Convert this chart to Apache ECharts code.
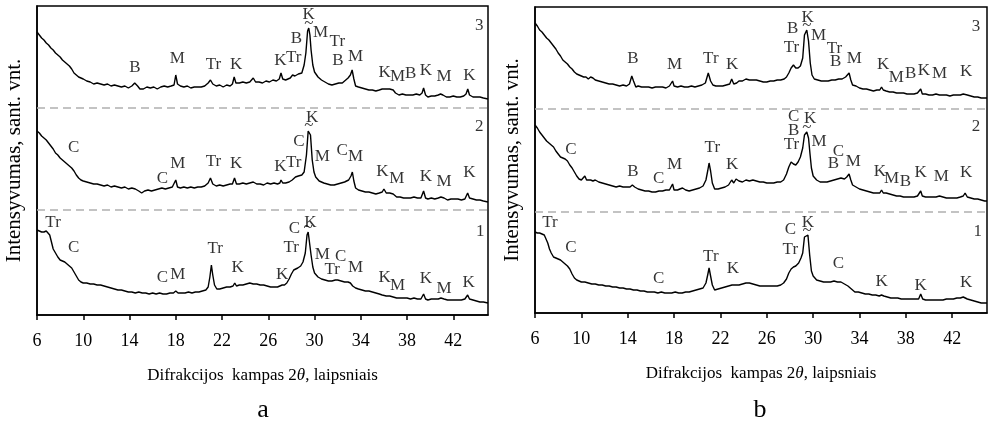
<!DOCTYPE html>
<html><head><meta charset="utf-8">
<script src="https://cdn.jsdelivr.net/npm/echarts@6/dist/echarts.min.js"></script>
<style>html,body{margin:0;padding:0;background:#fff}#c{width:988px;height:424px}</style>
</head><body><div id="c"></div>
<script>
// ---- data (2θ, intensity in arbitrary units, traces already offset as in the figure) ----
const xTicksMin = 6, xTicksMax = 45, xTickStep = 4;

const a3 = [[6.0,283],[6.2,280],[6.4,277],[6.6,275],[6.8,272],[7.0,270],[7.2,267],[7.4,265],[7.6,262],[7.8,260],[8.0,258],[8.2,255],[8.4,253],[8.6,251],[8.8,249],[9.0,246],[9.2,242],[9.4,240],[9.6,238],[9.8,237],[10.0,236],[10.3,234],[10.6,233],[10.9,231],[11.2,232],[11.5,231],[11.8,230],[12.1,231],[12.4,229],[12.7,230],[13.0,229],[13.3,228],[13.6,229],[13.9,227],[14.2,229],[14.45,232],[14.7,229],[14.9,226],[15.2,226],[15.5,228],[15.8,227],[16.1,228],[16.4,226],[16.7,228],[17.0,229],[17.3,228],[17.6,229],[17.85,230],[18.0,240],[18.15,231],[18.4,229],[18.7,228],[19.0,229],[19.3,227],[19.6,228],[19.9,228],[20.2,228],[20.5,229],[20.8,232],[21.0,235],[21.2,231],[21.5,229],[21.8,230],[22.1,228],[22.4,230],[22.7,229],[22.9,231],[23.05,238],[23.2,232],[23.5,232],[23.8,233],[24.1,232],[24.4,233],[24.7,237],[24.9,233],[25.2,233],[25.5,232],[25.8,234],[26.1,233],[26.4,235],[26.7,234],[26.95,236],[27.1,242],[27.25,236],[27.5,235],[27.7,236],[27.9,237],[28.1,240],[28.3,239],[28.6,241],[28.9,242],[29.1,250],[29.25,262],[29.4,284],[29.5,287],[29.6,280],[29.7,265],[29.85,250],[30.0,243],[30.3,238],[30.6,235],[30.9,233],[31.2,231],[31.5,230],[31.8,231],[32.1,232],[32.4,232],[32.7,235],[32.9,237],[33.1,240],[33.25,245],[33.4,236],[33.55,229],[33.8,228],[34.1,227],[34.4,226],[34.7,225],[35.0,225],[35.3,224],[35.6,225],[35.85,226],[36.0,228],[36.2,226],[36.5,226],[36.8,225],[37.0,222],[37.3,220],[37.6,221],[37.9,220],[38.2,220],[38.5,220],[38.8,221],[39.1,220],[39.3,222],[39.43,227],[39.6,220],[39.8,218],[40.1,219],[40.4,219],[40.7,220],[40.9,221],[41.1,220],[41.4,218],[41.7,218],[42.0,219],[42.3,218],[42.6,218],[42.9,219],[43.1,221],[43.25,226],[43.4,220],[43.7,218],[44.0,218],[44.3,218],[44.6,217],[45.0,216]];

const a2 = [[6.0,184],[6.2,182],[6.4,179],[6.6,177],[6.8,175],[7.0,172],[7.2,169],[7.4,166],[7.6,162],[7.8,160],[8.0,157],[8.2,155],[8.4,153],[8.6,151],[8.8,149],[9.0,147],[9.2,144],[9.4,140],[9.6,137],[9.8,135],[10.0,134],[10.3,133],[10.6,132],[10.9,131],[11.2,131],[11.5,130],[11.8,129],[12.1,130],[12.4,128],[12.7,129],[13.0,128],[13.3,127],[13.6,128],[13.9,126],[14.2,127],[14.5,126],[14.8,124],[15.05,122],[15.3,124],[15.6,125],[15.9,124],[16.2,125],[16.5,126],[16.8,127],[17.1,126],[17.4,127],[17.7,128],[17.85,128],[18.0,135],[18.15,128],[18.4,127],[18.7,128],[19.0,127],[19.3,128],[19.6,127],[19.9,128],[20.2,128],[20.5,129],[20.8,132],[21.0,137],[21.2,131],[21.5,129],[21.8,130],[22.1,129],[22.4,130],[22.7,131],[22.9,131],[23.08,137],[23.25,131],[23.5,131],[23.8,132],[24.1,131],[24.4,132],[24.7,133],[25.0,131],[25.3,131],[25.6,130],[25.9,132],[26.2,131],[26.5,132],[26.8,131],[27.0,132],[27.1,135],[27.25,132],[27.5,132],[27.8,133],[28.07,135],[28.35,138],[28.6,139],[28.9,140],[29.1,143],[29.3,160],[29.45,184],[29.55,185],[29.65,180],[29.8,155],[29.95,143],[30.1,138],[30.4,134],[30.8,132],[31.1,131],[31.4,130],[31.7,130],[32.0,131],[32.3,132],[32.6,133],[32.95,135],[33.15,139],[33.27,143],[33.4,134],[33.55,127],[33.8,125],[34.1,124],[34.4,123],[34.7,123],[35.0,122],[35.3,121],[35.6,122],[35.85,123],[36.0,126],[36.2,122],[36.5,122],[36.8,121],[37.1,118],[37.4,118],[37.7,117],[38.0,117],[38.3,117],[38.6,118],[38.9,117],[39.2,117],[39.3,119],[39.43,124],[39.6,117],[39.8,116],[40.1,117],[40.4,116],[40.7,117],[40.93,118],[41.2,117],[41.5,115],[41.8,116],[42.1,116],[42.4,116],[42.7,115],[43.0,116],[43.1,118],[43.24,122],[43.4,117],[43.7,116],[44.0,115],[44.3,115],[44.6,114],[45.0,113]];

const a1 = [[6.0,85],[6.2,84],[6.4,83],[6.6,83],[6.8,84],[6.95,84],[7.1,80],[7.25,73],[7.4,66],[7.6,62],[7.8,58],[8.0,55],[8.2,54],[8.4,53],[8.6,51],[8.8,49],[9.0,47],[9.2,43],[9.4,39],[9.6,35],[9.8,33],[10.0,32],[10.3,32],[10.6,31],[10.9,31],[11.2,30],[11.5,30],[11.8,29],[12.1,28],[12.4,27],[12.7,26],[13.0,25],[13.3,25],[13.6,24],[13.9,23],[14.2,23],[14.5,22],[14.8,23],[15.1,22],[15.4,22],[15.7,21],[16.0,22],[16.3,21],[16.6,22],[16.9,21],[17.2,21],[17.5,22],[17.8,22],[18.0,24],[18.2,22],[18.5,22],[18.8,22],[19.1,23],[19.4,22],[19.7,23],[20.0,23],[20.3,24],[20.6,25],[20.8,28],[20.95,38],[21.08,50],[21.2,40],[21.35,30],[21.55,26],[21.8,26],[22.1,27],[22.4,28],[22.7,28],[22.95,29],[23.1,32],[23.25,29],[23.5,30],[23.8,30],[24.1,31],[24.4,32],[24.7,31],[25.0,31],[25.3,30],[25.6,30],[25.9,29],[26.2,28],[26.5,28],[26.8,28],[27.0,29],[27.2,30],[27.4,30],[27.6,32],[27.8,36],[28.0,41],[28.2,45],[28.35,47],[28.55,47],[28.8,49],[29.0,53],[29.2,62],[29.35,80],[29.45,83],[29.55,82],[29.7,60],[29.85,48],[30.0,42],[30.3,38],[30.6,36],[30.9,35],[31.2,34],[31.5,34],[31.8,35],[32.0,35],[32.3,34],[32.6,33],[32.9,33],[33.1,32],[33.3,29],[33.55,27],[33.8,26],[34.1,25],[34.4,24],[34.7,24],[35.0,23],[35.3,22],[35.6,21],[35.85,20],[36.0,21],[36.2,19],[36.5,19],[36.8,18],[37.1,17],[37.4,17],[37.7,17],[38.0,17],[38.3,16],[38.6,17],[38.9,16],[39.2,16],[39.3,17],[39.43,21],[39.6,16],[39.8,15],[40.1,16],[40.4,16],[40.7,16],[40.93,17],[41.2,16],[41.5,15],[41.8,15],[42.1,15],[42.4,15],[42.7,15],[43.0,16],[43.1,17],[43.24,20],[43.4,16],[43.7,15],[44.0,14],[44.3,13],[44.6,13],[45.0,12]];

const b3 = [[6.0,290],[6.2,287],[6.4,283],[6.6,281],[6.8,278],[7.0,275],[7.2,273],[7.4,270],[7.6,267],[7.8,264],[8.0,260],[8.2,257],[8.4,253],[8.6,251],[8.8,249],[9.0,246],[9.2,244],[9.4,241],[9.6,239],[9.8,238],[10.0,237],[10.2,236],[10.4,236],[10.6,234],[10.8,236],[11.0,235],[11.2,233],[11.5,232],[11.8,231],[12.1,230],[12.4,229],[12.7,229],[13.0,228],[13.3,227],[13.6,228],[13.9,227],[14.15,229],[14.35,237],[14.5,232],[14.7,226],[14.9,227],[15.2,226],[15.5,226],[15.8,226],[16.1,225],[16.4,226],[16.7,226],[17.0,226],[17.3,225],[17.6,227],[17.75,227],[17.87,232],[18.0,227],[18.3,226],[18.6,227],[18.9,226],[19.2,226],[19.5,227],[19.8,226],[20.1,227],[20.4,228],[20.7,230],[20.95,240],[21.15,232],[21.35,228],[21.6,227],[21.9,227],[22.2,227],[22.5,228],[22.8,229],[22.97,234],[23.15,229],[23.4,230],[23.6,232],[23.9,232],[24.2,234],[24.5,233],[24.8,233],[25.1,233],[25.4,232],[25.7,231],[26.0,231],[26.3,232],[26.6,232],[26.9,233],[27.2,233],[27.5,234],[27.7,236],[27.9,240],[28.1,245],[28.3,248],[28.5,245],[28.7,245],[28.9,247],[29.1,255],[29.25,278],[29.45,283],[29.6,272],[29.75,250],[29.9,238],[30.1,234],[30.4,233],[30.7,232],[31.0,232],[31.3,232],[31.6,233],[31.9,233],[32.2,234],[32.5,234],[32.8,236],[32.95,237],[33.1,240],[33.25,233],[33.4,228],[33.7,227],[34.0,225],[34.3,224],[34.6,224],[34.9,223],[35.2,222],[35.5,223],[35.75,223],[35.9,226],[36.05,223],[36.3,222],[36.6,221],[36.9,221],[37.2,220],[37.5,220],[37.8,220],[38.1,219],[38.4,219],[38.7,219],[39.0,220],[39.15,220],[39.28,224],[39.42,219],[39.7,219],[40.0,218],[40.3,218],[40.6,219],[40.9,218],[41.2,218],[41.5,218],[41.8,217],[42.1,218],[42.4,218],[42.7,218],[42.95,219],[43.11,221],[43.3,218],[43.6,217],[43.9,216],[44.2,216],[44.5,215],[44.8,215],[45.0,215]];

const b2 = [[6.0,188],[6.2,185],[6.4,181],[6.6,178],[6.8,175],[7.0,172],[7.2,170],[7.4,168],[7.6,166],[7.8,162],[8.0,159],[8.2,156],[8.4,155],[8.6,154],[8.8,152],[9.0,148],[9.2,145],[9.4,141],[9.6,137],[9.8,134],[10.0,133],[10.15,134],[10.3,137],[10.45,133],[10.6,131],[10.8,133],[11.0,132],[11.2,133],[11.5,131],[11.8,130],[12.1,129],[12.4,128],[12.7,127],[13.0,126],[13.3,127],[13.6,126],[13.9,126],[14.2,126],[14.4,128],[14.6,126],[14.9,124],[15.2,123],[15.5,122],[15.8,122],[16.1,121],[16.4,121],[16.7,122],[17.0,122],[17.3,123],[17.6,123],[17.75,123],[17.87,129],[18.0,123],[18.3,123],[18.5,124],[18.73,125],[19.0,123],[19.3,122],[19.6,123],[19.9,124],[20.2,125],[20.5,127],[20.75,133],[20.9,142],[21.02,150],[21.15,142],[21.3,130],[21.5,124],[21.8,124],[22.1,125],[22.4,126],[22.7,128],[22.97,133],[23.15,130],[23.35,134],[23.6,132],[23.9,131],[24.2,133],[24.5,132],[24.8,133],[25.1,132],[25.4,131],[25.7,131],[26.0,130],[26.3,130],[26.6,130],[26.9,131],[27.2,131],[27.45,133],[27.7,139],[27.9,146],[28.1,151],[28.3,149],[28.5,148],[28.7,151],[28.9,156],[29.1,165],[29.25,178],[29.45,181],[29.6,175],[29.72,160],[29.85,145],[30.0,137],[30.3,133],[30.6,131],[30.9,131],[31.2,131],[31.5,132],[31.8,133],[32.1,134],[32.4,135],[32.7,134],[32.9,136],[33.1,139],[33.25,133],[33.4,128],[33.7,126],[34.0,124],[34.3,123],[34.6,122],[34.9,121],[35.2,120],[35.5,120],[35.75,120],[35.9,123],[36.05,120],[36.3,120],[36.6,119],[36.9,118],[37.2,117],[37.5,117],[37.8,116],[38.1,116],[38.4,116],[38.7,116],[39.0,117],[39.15,117],[39.28,122],[39.42,117],[39.7,116],[40.0,116],[40.3,116],[40.6,116],[40.9,117],[41.2,116],[41.5,115],[41.8,115],[42.1,115],[42.4,115],[42.7,116],[42.95,117],[43.11,120],[43.3,116],[43.6,115],[43.9,114],[44.2,114],[44.5,113],[44.8,112],[45.0,112]];

const b1 = [[6.0,81],[6.2,80],[6.4,80],[6.6,79],[6.8,78],[6.95,78],[7.1,70],[7.25,64],[7.4,60],[7.6,56],[7.8,55],[8.0,54],[8.2,53],[8.4,51],[8.6,49],[8.8,47],[9.0,44],[9.2,39],[9.4,35],[9.6,33],[9.8,32],[10.0,31],[10.3,31],[10.6,30],[10.9,29],[11.2,29],[11.5,28],[11.8,28],[12.1,27],[12.4,27],[12.7,26],[13.0,26],[13.3,25],[13.6,25],[13.9,24],[14.2,24],[14.5,23],[14.8,23],[15.1,22],[15.4,22],[15.7,21],[16.0,21],[16.3,21],[16.6,20],[16.9,21],[17.2,20],[17.5,20],[17.8,20],[18.1,21],[18.4,20],[18.7,20],[19.0,21],[19.3,21],[19.6,22],[19.9,23],[20.2,24],[20.5,25],[20.75,30],[20.9,38],[21.02,45],[21.15,37],[21.3,28],[21.5,23],[21.8,24],[22.1,25],[22.4,26],[22.7,27],[23.0,28],[23.3,28],[23.6,28],[23.9,29],[24.2,30],[24.5,30],[24.8,29],[25.1,28],[25.4,27],[25.7,27],[26.0,27],[26.3,27],[26.6,27],[26.9,27],[27.2,28],[27.45,30],[27.7,34],[27.9,40],[28.1,44],[28.3,46],[28.5,47],[28.75,50],[28.95,55],[29.1,60],[29.25,76],[29.4,78],[29.55,78],[29.7,58],[29.85,42],[30.0,37],[30.3,33],[30.6,32],[30.9,31],[31.2,31],[31.5,31],[31.8,32],[32.1,31],[32.4,31],[32.7,29],[33.0,27],[33.3,24],[33.6,21],[33.9,21],[34.2,20],[34.5,19],[34.8,19],[35.1,18],[35.4,18],[35.7,17],[35.9,18],[36.1,17],[36.4,16],[36.7,15],[37.0,15],[37.3,15],[37.6,14],[37.9,14],[38.2,14],[38.5,14],[38.8,14],[39.1,14],[39.28,19],[39.45,14],[39.7,13],[40.0,13],[40.3,13],[40.6,13],[40.9,13],[41.2,13],[41.5,14],[41.8,14],[42.1,14],[42.4,15],[42.7,15],[42.95,16],[43.11,17],[43.3,14],[43.6,13],[43.9,12],[44.2,11],[44.5,10],[44.8,10],[45.0,10]];

// phase annotations: [2θ, intensity, text]
const labelsA = [
  [14.47,247,'B'],[18.14,256,'M'],[21.26,250,'Tr'],[23.21,250,'K'],[27.05,254,'K'],[28.2,257,'Tr'],[28.44,276,'B'],[29.5,300,'K'],[29.5,291,'~'],[30.52,282,'M'],[31.97,273,'Tr'],[32.02,254,'B'],[33.55,258,'M'],[36.07,242,'K'],[37.17,238,'M'],[38.32,241,'B'],[39.62,244,'K'],[41.21,238,'M'],[43.38,239,'K'],[44.25,289,'3'],
  [9.18,167,'C'],[16.84,136,'C'],[18.18,151,'M'],[21.26,153,'Tr'],[23.23,151,'K'],[27.05,148,'K'],[28.2,152,'Tr'],[28.64,173,'C'],[29.8,197,'K'],[29.5,189,'~'],[30.67,158,'M'],[32.4,164,'C'],[33.55,158,'M'],[35.87,143,'K'],[37.11,136,'M'],[39.63,138,'K'],[41.21,133,'M'],[43.38,142,'K'],[44.25,188,'2'],
  [7.39,92,'Tr'],[9.18,67,'C'],[16.84,37,'C'],[18.18,40,'M'],[21.41,66,'Tr'],[23.35,47,'K'],[27.2,40,'K'],[27.98,67,'Tr'],[28.26,86,'C'],[29.65,92,'K'],[29.45,87,'~'],[30.67,60,'M'],[32.25,58,'C'],[31.53,45,'Tr'],[33.55,47,'M'],[36.07,37,'K'],[37.17,29,'M'],[39.63,36,'K'],[41.21,26,'M'],[43.33,32,'K'],[44.33,83,'1']
];
const labelsB = [
  [14.44,254,'B'],[18.04,248,'M'],[21.17,254,'Tr'],[23.0,248,'K'],[28.23,284,'B'],[28.12,265,'Tr'],[29.52,295,'K'],[29.45,287,'~'],[30.46,277,'M'],[31.84,264,'Tr'],[31.95,251,'B'],[33.55,254,'M'],[36.04,248,'K'],[37.18,235,'M'],[38.42,239,'B'],[39.56,242,'K'],[40.91,239,'M'],[43.19,241,'K'],[44.05,286,'3'],
  [9.09,163,'C'],[14.44,141,'B'],[16.67,134,'C'],[18.04,148,'M'],[21.3,165,'Tr'],[23.02,148,'K'],[28.32,196,'C'],[29.75,194,'K'],[29.45,185,'~'],[28.32,182,'B'],[28.12,168,'Tr'],[30.52,171,'M'],[32.18,161,'C'],[31.75,149,'B'],[33.47,151,'M'],[35.76,141,'K'],[36.76,134,'M'],[37.96,131,'B'],[39.28,140,'K'],[41.05,136,'M'],[43.19,140,'K'],[44.05,186,'2'],
  [7.29,90,'Tr'],[9.09,65,'C'],[16.67,34,'C'],[21.17,56,'Tr'],[23.08,44,'K'],[28.03,83,'C'],[28.03,63,'Tr'],[29.55,90,'K'],[29.47,82,'~'],[32.18,49,'C'],[35.9,31,'K'],[39.28,27,'K'],[43.19,30,'K'],[44.2,81,'1']
];
// dashed separators between traces
const dashA = [105, 207];
const dashB = [101, 204];

const xTitle = '{n|Difrakcijos  kampas 2}{i|θ}{n|, laipsniais}';
const yTitle = 'Intensyvumas, sant. vnt.';
const panelLetters = ['a', 'b'];

// ---- chart ----
const FONT = '"Liberation Serif", "Times New Roman", serif';
const chart = echarts.init(document.getElementById('c'), null, {renderer: 'canvas'});

function xAx(gi) {
  return {
    type: 'value', gridIndex: gi, min: xTicksMin, max: xTicksMax, interval: xTickStep,
    axisLine: {show: true, onZero: false, lineStyle: {color: '#000', width: 1.5}},
    axisTick: {show: true, inside: false, length: 5, lineStyle: {color: '#000', width: 1.5}},
    axisLabel: {showMaxLabel: false, color: '#000', fontFamily: FONT, fontSize: 18, margin: 17},
    splitLine: {show: false},
    name: xTitle, nameLocation: 'middle', nameGap: 52,
    nameTextStyle: {rich: {
      n: {fontFamily: FONT, fontSize: 17, color: '#000'},
      i: {fontFamily: FONT, fontSize: 17, color: '#000', fontStyle: 'italic'}
    }}
  };
}
function yAx(gi, max) {
  return {
    type: 'value', gridIndex: gi, min: 0, max: max,
    axisLine: {show: true, lineStyle: {color: '#000', width: 1.5}},
    axisTick: {show: false}, axisLabel: {show: false}, splitLine: {show: false},
    name: yTitle, nameLocation: 'middle', nameGap: 12,
    nameTextStyle: {fontFamily: FONT, fontSize: 21, color: '#000'}
  };
}
function trace(data, gi) {
  return {type: 'line', xAxisIndex: gi, yAxisIndex: gi, data: data, showSymbol: false, symbol: 'none',
    lineStyle: {color: '#000', width: 1.4}, silent: true, z: 3};
}
function dashes(vals, gi) {
  return {type: 'line', xAxisIndex: gi, yAxisIndex: gi, data: [], silent: true,
    markLine: {symbol: 'none', silent: true, label: {show: false},
      lineStyle: {color: '#b0b0b0', type: [8, 5], width: 1.5},
      data: vals.map(v => ({yAxis: v}))}};
}
function labels(arr, gi) {
  return {type: 'scatter', xAxisIndex: gi, yAxisIndex: gi, data: arr, symbolSize: 1, silent: true, z: 5,
    itemStyle: {color: 'rgba(0,0,0,0)'},
    label: {show: true, position: 'inside', formatter: p => p.value[2],
      fontFamily: FONT, fontSize: 17, color: '#000',
      rich: {}}};
}

chart.setOption({
  animation: false,
  backgroundColor: '#fff',
  grid: [
    {left: 37, top: 6, width: 451, height: 309, show: true, borderColor: '#000', borderWidth: 1.5},
    {left: 535, top: 7, width: 452, height: 306, show: true, borderColor: '#000', borderWidth: 1.5}
  ],
  xAxis: [xAx(0), xAx(1)],
  yAxis: [yAx(0, 309), yAx(1, 306)],
  series: [
    dashes(dashA, 0), trace(a1, 0), trace(a2, 0), trace(a3, 0), labels(labelsA, 0),
    dashes(dashB, 1), trace(b1, 1), trace(b2, 1), trace(b3, 1), labels(labelsB, 1)
  ],
  graphic: [
    {type: 'text', x: 263, y: 410, style: {text: panelLetters[0], font: '26px ' + FONT, fill: '#000', align: 'center', verticalAlign: 'middle'}},
    {type: 'text', x: 760, y: 410, style: {text: panelLetters[1], font: '26px ' + FONT, fill: '#000', align: 'center', verticalAlign: 'middle'}}
  ]
});
</script></body></html>
